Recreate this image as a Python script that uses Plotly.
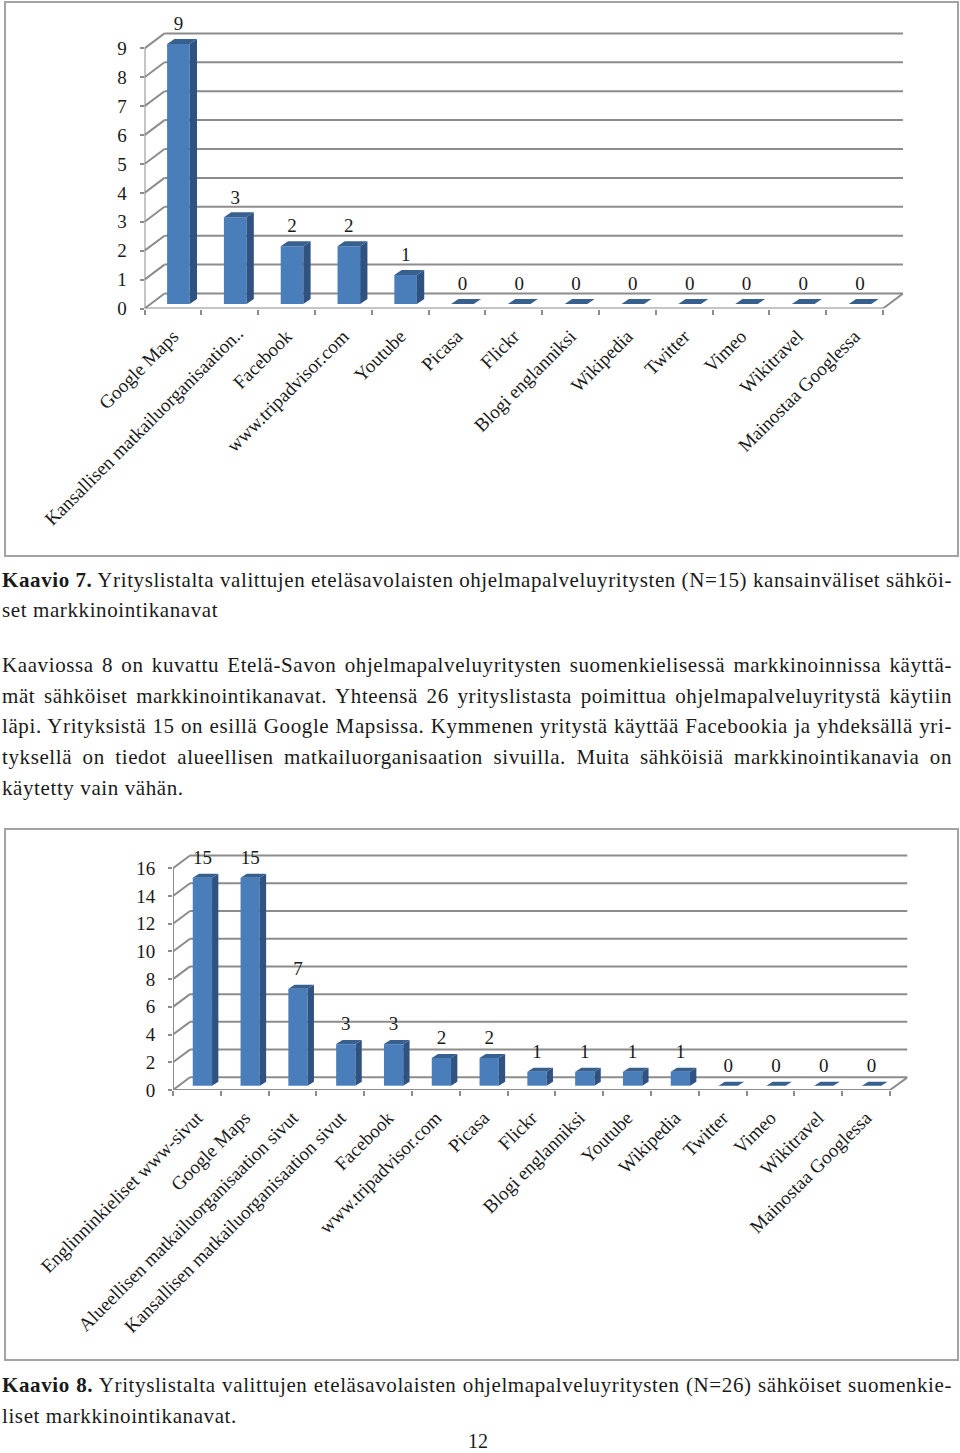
import plotly.graph_objects as go

categories_1 = ["Google Maps", "Kansallisen matkailuorganisaation..", "Facebook", "www.tripadvisor.com",
                "Youtube", "Picasa", "Flickr", "Blogi englanniksi", "Wikipedia", "Twitter", "Vimeo",
                "Wikitravel", "Mainostaa Googlessa"]
values_1 = [9, 3, 2, 2, 1, 0, 0, 0, 0, 0, 0, 0, 0]
ticks_1 = [0, 1, 2, 3, 4, 5, 6, 7, 8, 9]

categories_2 = ["Englinninkieliset www-sivut", "Google Maps", "Alueellisen matkailuorganisaation sivut",
                "Kansallisen matkailuorganisaation sivut", "Facebook", "www.tripadvisor.com", "Picasa",
                "Flickr", "Blogi englanniksi", "Youtube", "Wikipedia", "Twitter", "Vimeo", "Wikitravel",
                "Mainostaa Googlessa"]
values_2 = [15, 15, 7, 3, 3, 2, 2, 1, 1, 1, 1, 0, 0, 0, 0]
ticks_2 = [0, 2, 4, 6, 8, 10, 12, 14, 16]

body_lines = [
    ("<b>Kaavio 7.</b> Yrityslistalta valittujen eteläsavolaisten ohjelmapalveluyritysten (N=15) kansainväliset sähköi-", 580, True),
    ("set markkinointikanavat", 610, False),
    ("Kaaviossa 8 on kuvattu Etelä-Savon ohjelmapalveluyritysten suomenkielisessä markkinoinnissa käyttä-", 665, True),
    ("mät sähköiset markkinointikanavat. Yhteensä 26 yrityslistasta poimittua ohjelmapalveluyritystä käytiin", 696, True),
    ("läpi. Yrityksistä 15 on esillä Google Mapsissa. Kymmenen yritystä käyttää Facebookia ja yhdeksällä yri-", 726, True),
    ("tyksellä on tiedot alueellisen matkailuorganisaation sivuilla. Muita sähköisiä markkinointikanavia on", 757, True),
    ("käytetty vain vähän.", 788, False),
    ("<b>Kaavio 8.</b> Yrityslistalta valittujen eteläsavolaisten ohjelmapalveluyritysten (N=26) sähköiset suomenkie-", 1385, True),
    ("liset markkinointikanavat.", 1416, False),
]
page_number = "12"

W, H = 960, 1453
FONT = "Liberation Serif"
INK = "#1a1a1a"
GRID = "#8c8c8c"
FRONT = "#4a7ebb"
SIDE = "#2f5280"
TOP = "#37608f"

fig = go.Figure()
shapes = []


def chart(n, cats, vals, ticks, left, right_front, right_back, y0, y_unit, depth_x, depth_y,
          shift_x, shift_y, bar_w, bar_dx, bar_dy, label_gap, headroom):
    sx = "" if n == 1 else str(n)
    slot = (right_front - left) / len(cats)
    top_val = ticks[-1]
    top_px = y0 - top_val * y_unit - depth_y - headroom
    xr = (right_back - left) / slot
    yr = (y0 - top_px) / y_unit
    dx, dy = depth_x / slot, depth_y / y_unit
    ax_x, ax_y = f"xaxis{sx}", f"yaxis{sx}"
    fig.update_layout({
        ax_x: dict(domain=[left / W, right_back / W], range=[0, xr], anchor=f"y{sx}",
                   tickmode="array", tickvals=[i + 0.5 for i in range(len(cats))], ticktext=cats,
                   tickangle=-45, ticks="", showgrid=False, zeroline=False, showline=False,
                   tickfont=dict(family=FONT, size=19, color=INK), ticklabelstandoff=12,
                   automargin=False,
                   minor=dict(tickmode="array", tickvals=list(range(len(cats) + 1)), ticks="outside",
                              ticklen=5, tickwidth=2, tickcolor=GRID, showgrid=False)),
        ax_y: dict(domain=[1 - y0 / H, 1 - top_px / H], range=[0, yr], anchor=f"x{sx}",
                   tickmode="array", tickvals=ticks, ticks="outside", ticklen=4, tickwidth=2,
                   tickcolor=GRID, showgrid=False, zeroline=False, showline=False,
                   tickfont=dict(family=FONT, size=19, color=INK), ticklabelstandoff=9,
                   automargin=False),
    })
    lstyle = dict(color=GRID, width=2)
    ref = dict(xref=f"x{sx}", yref=f"y{sx}", layer="below", line=lstyle, type="line")
    for t in ticks:
        shapes.append(dict(x0=0, y0=t, x1=dx, y1=t + dy, **ref))
        shapes.append(dict(x0=dx, y0=t + dy, x1=xr, y1=t + dy, **ref))
    shapes.append(dict(x0=0, y0=0, x1=0, y1=top_val, **ref))
    shapes.append(dict(x0=0, y0=0, x1=len(cats), y1=0, **ref))
    shapes.append(dict(x0=len(cats), y0=0, x1=xr, y1=dy, **ref))

    w = bar_w / slot
    sh_x, sh_y = shift_x / slot, shift_y / y_unit
    bx, by = bar_dx / slot, bar_dy / y_unit
    centers = [i + 0.5 + sh_x for i in range(len(cats))]
    fig.add_trace(go.Bar(x=centers, y=vals, base=[sh_y] * len(vals), width=w, xaxis=f"x{sx}", yaxis=f"y{sx}",
                         marker=dict(color=FRONT, line=dict(width=0)), hoverinfo="skip", showlegend=False))
    side_x, side_y, top_x, top_y = [], [], [], []
    for c, v in zip(centers, vals):
        l, r, b, t = c - w / 2, c + w / 2, sh_y, sh_y + v
        if v > 0:
            side_x += [r, r + bx, r + bx, r, r, None]
            side_y += [b, b + by, t + by, t, b, None]
        top_x += [l, r, r + bx, l + bx, l, None]
        top_y += [t, t, t + by, t + by, t, None]
    for xs, ys, col in ((side_x, side_y, SIDE), (top_x, top_y, TOP)):
        fig.add_trace(go.Scatter(x=xs, y=ys, mode="lines", fill="toself", fillcolor=col, line=dict(width=0),
                                 xaxis=f"x{sx}", yaxis=f"y{sx}", hoverinfo="skip", showlegend=False))
    gap = label_gap / y_unit
    fig.add_trace(go.Scatter(x=centers, y=[v + gap for v in vals], mode="text", text=[str(v) for v in vals],
                             textposition="middle center", textfont=dict(family=FONT, size=19, color=INK),
                             xaxis=f"x{sx}", yaxis=f"y{sx}", hoverinfo="skip", showlegend=False,
                             cliponaxis=False))


chart(1, categories_1, values_1, ticks_1, 144.5, 883, 903, 308.5, 28.9, 20, 15,
      5.5, 4.5, 22.6, 7.3, 5, 23, 24)
chart(2, categories_2, values_2, ticks_2, 173, 890, 907.5, 1090, 13.86, 17, 12.7,
      5.5, 4.3, 19.3, 6.3, 4, 23, 14)

# page frames around the two charts
for top, bottom in ((2, 556), (829, 1360)):
    shapes.append(dict(type="rect", xref="paper", yref="paper", x0=5 / W, x1=958 / W, y0=1 - bottom / H,
                       y1=1 - top / H, line=dict(color="#a3a3a3", width=2), layer="below"))

annotations = []
targets = []
for text, y, justified in body_lines:
    annotations.append(dict(text=text, x=0, y=1 - y / H, xref="paper", yref="paper", xanchor="left",
                            yanchor="middle", align="left", showarrow=False,
                            font=dict(family=FONT, size=21, color=INK)))
    targets.append(950 if justified else 0)
annotations.append(dict(text=page_number, x=478 / W, y=1 - 1441 / H, xref="paper", yref="paper", xanchor="center",
                        yanchor="middle", showarrow=False, borderpad=0, font=dict(family=FONT, size=20, color=INK)))
targets.append(-1)

fig.update_layout(width=W, height=H, margin=dict(l=0, r=0, t=0, b=0), paper_bgcolor="white",
                  plot_bgcolor="white", barmode="overlay", showlegend=False, shapes=shapes,
                  annotations=annotations)

post = """
document.body.style.margin='0';
var targets=%s;
document.querySelectorAll('.annotation').forEach(function(a){
  var i=+a.getAttribute('data-index'), t=a.querySelector('.annotation-text');
  if(!t||targets[i]<0) return;
  var b=t.getBBox(), n=t.textContent.split(' ').length-1;
  t.style.letterSpacing='0.6px';
  var m=t.getBBox();
  if(targets[i]) t.style.wordSpacing=((targets[i]-m.width)/n)+'px';
  var c=t.getBBox();
  t.setAttribute('transform','translate('+(b.x-c.x)+',0)');
});
document.querySelectorAll('.xtick text').forEach(function(t){
  if(t.textContent.slice(-2)==='..'){
    t.setAttribute('transform','translate(8,-3) '+(t.getAttribute('transform')||''));
  }
});
""" % targets

fig.write_html("out.html", post_script=post, config=dict(displayModeBar=False))
